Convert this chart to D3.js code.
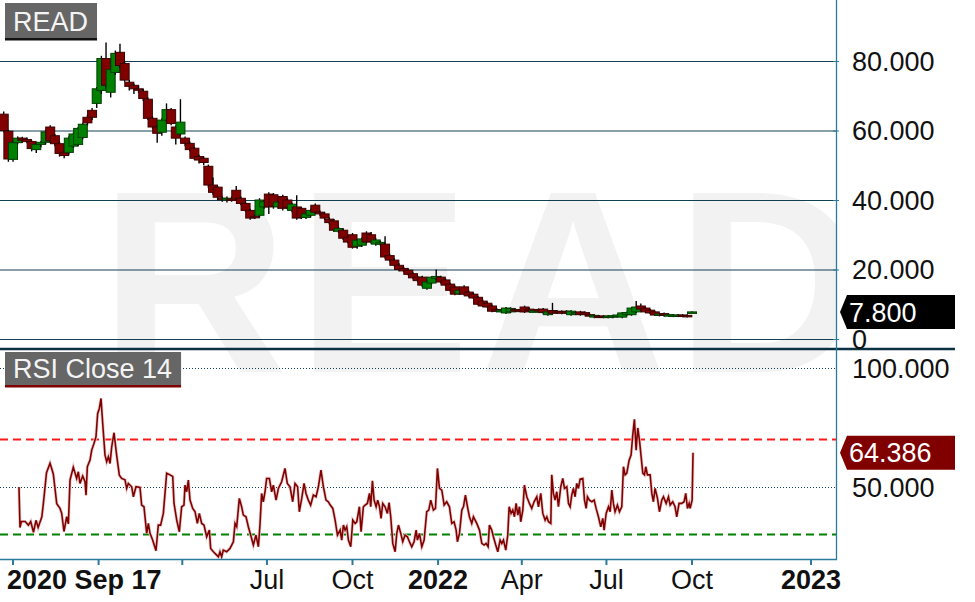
<!DOCTYPE html>
<html>
<head>
<meta charset="utf-8">
<script src="https://cdn.jsdelivr.net/npm/d3@7"></script>
<style>
body{margin:0;background:#fff;}
svg{display:block;font-family:"Liberation Sans",Arial,sans-serif;}
</style>
</head>
<body>
<svg id="chart" width="975" height="602"></svg>
<script>
// ---- data ----
var symbol = "READ";
var indicatorName = "RSI Close 14";
var firstDateLabel = "2020 Sep 17";
var seriesStart = "2020-09-17";
var candleStart = "2020-09-21";
var candleStepDays = 5;
// [open, high, low, close]
var candles = [
 [64.7,65.5,59.5,60.0],[59.8,60.2,51.0,51.8],[51.7,57.0,51.0,56.5],[56.5,58.3,56.0,57.8],[57.8,58.2,56.5,57.2],
 [57.4,58.0,56.3,56.8],[56.8,57.2,54.0,54.8],[54.5,56.5,53.5,56.0],[56.0,57.0,55.2,56.6],[56.6,60.2,56.0,59.6],
 [61.0,61.5,56.5,57.0],[58.5,59.0,55.5,56.2],[56.2,56.8,52.5,53.4],[53.6,54.2,52.0,52.8],[53.7,58.3,53.0,57.8],
 [55.5,59.5,55.0,59.0],[56.0,61.0,55.5,60.6],[58.0,62.2,57.5,61.8],[63.8,64.5,61.5,62.2],[65.8,66.5,63.0,63.8],
 [67.8,72.5,66.5,72.0],[71.5,81.5,70.5,80.7],[80.7,85.3,72.0,73.0],[71.0,78.0,69.5,77.5],[76.7,83.0,76.0,82.2],
 [82.5,85.0,78.0,78.7],[79.3,80.0,74.0,74.5],[73.9,74.5,71.5,72.7],[73.0,73.5,70.5,72.0],[72.0,73.0,70.8,71.6],
 [71.3,72.0,68.5,69.2],[69.0,69.5,63.0,63.5],[63.5,64.0,60.5,61.0],[61.0,61.5,56.5,59.2],[59.5,63.5,58.5,63.0],
 [63.0,67.8,62.5,66.0],[66.0,66.5,61.5,62.0],[61.0,61.5,56.0,57.8],[59.0,69.0,58.5,62.4],[57.8,58.3,55.5,56.3],
 [56.3,56.8,54.0,54.5],[54.9,55.3,51.5,52.0],[52.5,53.0,50.5,51.5],[52.0,52.5,50.0,50.8],[49.7,50.2,43.5,44.3],
 [44.3,46.5,41.5,42.2],[43.7,44.0,40.0,40.8],[40.5,41.0,39.5,40.2],[40.0,41.0,39.3,40.5],[40.3,41.0,39.5,40.2],
 [42.8,44.0,40.0,40.5],[40.5,41.0,38.5,39.0],[39.0,39.5,36.5,37.0],[37.0,37.5,34.3,34.8],[35.3,35.8,34.5,35.0],
 [35.6,40.5,35.0,40.0],[38.0,40.0,37.5,39.5],[41.7,42.2,36.0,38.0],[41.5,42.0,37.5,38.2],[38.0,40.0,37.5,39.4],
 [41.0,41.5,37.0,37.6],[40.0,40.5,37.3,37.8],[37.0,39.2,36.5,38.8],[38.0,41.4,34.3,34.8],[37.6,38.0,34.5,35.0],
 [35.0,36.5,34.5,36.0],[35.6,37.5,35.0,37.0],[38.5,39.0,36.0,36.5],[36.5,37.0,35.5,36.0],[36.0,36.5,34.3,34.8],
 [34.5,35.0,33.0,33.5],[34.0,34.5,30.8,31.3],[31.0,32.3,30.5,31.8],[31.3,31.8,28.5,29.0],[29.3,29.8,27.5,27.9],
 [30.0,30.5,26.0,26.4],[26.7,28.8,26.0,28.4],[27.0,29.2,26.5,28.8],[30.5,31.0,27.5,27.9],[30.0,30.8,27.5,28.0],
 [27.3,29.0,26.8,28.5],[27.3,28.2,26.8,27.8],[27.3,29.6,23.2,23.6],[24.0,24.5,22.2,22.7],[22.7,23.2,20.8,21.2],
 [21.2,21.8,19.5,20.0],[20.3,20.8,19.2,19.6],[19.8,20.2,18.3,18.6],[18.8,19.2,17.2,17.6],[17.8,18.2,16.3,16.8],
 [17.8,18.2,15.0,15.5],[14.6,16.8,14.2,16.4],[16.1,18.0,15.7,17.8],[17.4,20.0,17.0,18.0],[17.8,18.2,16.0,16.4],
 [17.0,17.4,15.2,15.5],[15.8,16.2,13.7,14.0],[15.0,15.4,12.6,12.9],[13.0,14.3,12.7,14.0],[15.0,15.5,12.6,12.9],
 [13.5,13.9,12.1,12.4],[12.9,13.3,11.5,11.8],[12.0,12.4,9.7,10.0],[10.9,11.3,9.2,9.5],[10.3,10.7,8.9,9.2],
 [9.5,9.9,7.7,8.0],[8.5,8.9,7.7,8.0],[7.8,8.6,7.5,8.3],[7.5,9.2,7.2,8.9],[7.8,9.1,7.5,8.8],
 [8.5,8.8,7.8,8.1],[8.3,8.6,7.9,8.2],[9.2,9.6,7.5,7.8],[8.6,9.0,8.0,8.3],[8.0,8.4,7.7,8.1],
 [8.5,8.8,7.9,8.2],[8.6,8.9,7.3,7.6],[7.0,8.1,6.7,7.8],[8.2,10.4,7.1,7.4],[8.0,8.3,7.3,7.6],
 [7.9,8.2,7.1,7.4],[8.0,8.3,7.2,7.5],[7.0,8.3,6.7,8.0],[7.2,7.9,6.9,7.6],[7.8,8.1,6.7,7.0],
 [7.6,7.9,6.8,7.1],[7.0,7.3,6.3,6.6],[6.3,7.1,6.0,6.8],[6.6,6.9,6.1,6.4],[6.6,6.9,6.0,6.3],
 [6.3,6.9,6.0,6.6],[6.3,7.0,6.0,6.7],[6.5,7.2,6.2,6.9],[6.3,7.8,6.0,7.5],[7.0,7.9,6.7,7.6],
 [7.0,9.2,6.7,8.9],[7.8,10.9,7.5,9.2],[9.5,10.2,8.3,8.6],[8.9,9.2,7.5,7.8],[8.3,8.6,7.2,7.5],
 [7.8,8.1,6.6,6.9],[6.8,7.5,6.5,7.2],[7.3,7.6,6.5,6.8],[6.7,7.3,6.4,7.0],[6.6,7.2,6.3,6.9],
 [6.6,7.2,6.3,6.9],[6.9,7.2,6.3,6.6],[6.8,7.1,6.2,6.5],[7.7,8.0,7.5,7.8]
];
// [days after series start, RSI]
var rsiPoints = [
 [20.4,50],[21.5,33],[23,35.5],[27,35.5],[30.5,34],[33,35.5],[36,31],[38.7,36],[41,33],[45,37.5],[46.6,43],[50,56],
 [53.8,60],[57.3,55.5],[61,43],[64.5,41],[66.3,39],[68.8,31.3],[71.7,37.5],[73.5,34.5],[75.3,52.9],[78.8,58.3],
 [82.4,53.6],[84.2,56.4],[86,51.5],[88.9,54.6],[91.4,52.2],[92.5,46.6],[93.9,58.5],[96.8,61.3],[98.6,65.5],[101,68.3],
 [103.2,71.1],[105,80.9],[106.8,83],[108.6,87.2],[110.4,76.8],[112.9,63.4],[114.7,60.6],[116.5,62.7],[118.3,59.9],
 [120.1,66.9],[122.6,72.8],[125.4,63.4],[128.3,55],[130.8,53.6],[134.4,53],[136.2,49.4],[138,51.5],[141.6,50.1],
 [143.4,45.9],[146.2,50.1],[150.5,49.8],[152.3,42.4],[154.8,41.7],[157.7,30.5],[159.5,34.7],[161.3,30.5],[164.1,27.7],
 [167.7,23.2],[170.2,34],[172.7,34],[175.6,38.9],[179.2,55.8],[182.8,55.1],[185.7,54.4],[187.1,43.1],[190,36.1],
 [192.8,31.2],[195.3,41.7],[197.8,42.4],[198.9,50.8],[200.7,48],[202.5,52.9],[204.3,44.5],[207.2,41],[209.7,39.6],
 [212.2,34.7],[214.3,38.9],[216.8,34.7],[219.3,34],[222.2,29.1],[225.1,31.9],[226.5,24.2],[229.4,22.8],[232.2,21.7],
 [234.8,20.7],[236.5,22.8],[238.3,20.7],[240.1,23.5],[243.7,22.8],[247.3,24.2],[250.9,27],[252.7,34.7],[254.5,33.3],
 [257.3,45.2],[259.8,41.7],[261.6,38.2],[264.5,37.5],[267,33.3],[269.5,29.8],[272.4,25.6],[275.2,29.8],[277.8,24.9],
 [279.6,34.7],[281.3,47.3],[283.1,43.8],[284.9,48],[286.7,53.6],[289.6,53.6],[292.1,48],[293.9,50.8],[296.8,44.5],
 [299.3,49.4],[302.8,52.2],[306.4,57.8],[308.9,51.5],[311.8,50.1],[314.7,43.8],[317.2,51.5],[320,50.1],[321.8,39.6],
 [324.4,45.2],[326.9,51.5],[329,47.3],[331.5,44.5],[334,42.4],[336.9,46.6],[339.8,45.9],[342.3,50.1],[345.1,57.1],
 [347.7,50.1],[350.5,44.5],[353,43.8],[354.9,42.5],[357.8,41],[360.3,36.1],[362.8,29.8],[365.7,31.9],[367.4,27.7],
 [369.2,34],[371,31.9],[372.8,33.3],[374.6,27.7],[377.1,24.9],[379.3,36.1],[381.8,34.7],[383.6,35.4],[386.4,41.7],
 [388.2,31.2],[390.7,41.7],[392.5,42.4],[395,43.1],[397.2,47.3],[398.6,41.7],[400.4,52.6],[402.2,44.5],[404.4,41.7],
 [406.1,44.5],[408,41.7],[409.7,36.8],[411.5,43.1],[414,41.7],[416.5,38.9],[418.3,43.4],[420.1,37.5],[422.3,26.3],
 [424.8,22.8],[426.6,30.5],[428.4,34],[430.9,30.5],[433,27],[435.5,29.8],[438,29.1],[440.2,27],[442.7,24.9],[445.2,27],
 [447.4,31.9],[448.8,27.7],[451,30.5],[453.5,24.9],[456,27.7],[458.8,39.6],[461,40.3],[463.1,44.5],[466,40.3],[468.2,41],
 [470.3,57.8],[472.5,49.4],[475,48.7],[477.5,42.4],[480.3,43.8],[483.2,41.7],[485.7,34.7],[488.2,35.4],[490.4,31.9],
 [491.8,27],[494,30.5],[496.5,40.3],[498.3,41.7],[500.4,46.6],[502.6,41.7],[504.7,37.5],[507.2,34.7],[509,37.5],
 [510.8,36.1],[512.6,34.7],[515.5,31.9],[518,26.3],[520.5,25.6],[522.6,26.3],[524.8,24.9],[526.2,34],[528.7,31.9],
 [530.5,29.1],[533,25.6],[535.2,22.8],[537.7,27.7],[539.5,26.3],[541.3,27.7],[543.8,23.5],[545.9,29.8],[547.4,41.7],
 [549.5,38.9],[551.3,40.3],[553.1,37.5],[554.9,43.1],[556.7,38.2],[558.5,41.7],[559.9,35.4],[562.1,40.3],[563.8,50.8],
 [566.4,45.9],[569.2,43.1],[571.7,41],[574.2,43.8],[577.1,45.9],[578.9,41.7],[581.4,47.3],[583.6,38.9],[586.1,36.1],
 [587.9,37.5],[589.7,35.4],[592.2,34.7],[593.2,55.1],[595,47.3],[596.8,44.5],[598.6,48],[600.4,41.7],[602.9,50.1],
 [605.1,53.6],[606.9,49.4],[609.4,50.1],[611.2,43.1],[613,41.7],[614.7,46.6],[616.5,49.4],[618.3,45.9],[620.1,51.5],
 [621.9,49.4],[623.7,53.3],[626.6,53.6],[628.4,44.5],[630.2,41],[631.6,45.9],[633.7,44.5],[636.3,43.8],[638.8,44.5],
 [640.9,41],[643.4,37.5],[645.9,33.3],[648.1,36.8],[649.5,31.9],[651.7,38.9],[654.2,41.7],[656,39.6],[657.8,48.7],
 [659.5,43.1],[661.3,39.6],[663.8,42.4],[666,39.6],[668.5,41.7],[670.3,58.5],[672.1,55.1],[673.9,55.8],[676.4,61.3],
 [678.5,63.4],[680.3,71.8],[682.1,78.4],[683.9,65.5],[685.7,74.8],[687.5,69.7],[689.3,62.7],[691.1,55.8],[692.9,55.1],
 [694.3,58.5],[696.1,55.1],[699,55.1],[700.8,47.3],[702.5,43.8],[704.3,49.4],[706.9,45.2],[709,39.6],[711.5,44.5],
 [713.3,45.9],[716.2,43.1],[718.7,45.9],[720.5,42.4],[723.3,43.8],[725.8,41.7],[727.6,37.5],[730.1,43.1],[733,43.1],
 [735.5,43.8],[737.3,47.3],[739.1,41],[740.9,43.1],[742,41],[744.1,44.5],[744.8,64.386]
];
var lastPrice = 7.8;
var lastRsi = 64.386;
var priceTicks = [0, 20, 40, 60, 80];
var rsiTicks = [50, 100];
var rsiOverbought = 70, rsiOversold = 30;

// ---- layout ----
var plotRight = 836;
var pricePanel = {top: 0, bottom: 349};
var rsiPanel = {top: 350, bottom: 559};
var axisColor = "#2b7a9b", gridColor = "#123f52";

var svg = d3.select("#chart");
var parseDate = d3.timeParse("%Y-%m-%d");
var t0 = parseDate(seriesStart);
function dayToDate(d){ return new Date(t0.getTime() + d*864e5); }

// trading-day axis; the part after the last bar is spaced a bit wider
var x = d3.scaleTime()
    .domain([t0, parseDate("2022-10-01"), parseDate("2023-01-01")])
    .range([0, 692, 811]);
var yPrice = d3.scaleLinear().domain([0, 80]).range([339, 61]);
var yRsi = d3.scaleLinear().domain([0, 100]).range([606, 368]);

var defs = svg.append("defs");
defs.append("clipPath").attr("id","clipPrice").append("rect")
    .attr("x",0).attr("y",pricePanel.top).attr("width",plotRight).attr("height",pricePanel.bottom-pricePanel.top);
defs.append("clipPath").attr("id","clipRsi").append("rect")
    .attr("x",0).attr("y",rsiPanel.top).attr("width",plotRight).attr("height",rsiPanel.bottom-rsiPanel.top);
defs.append("clipPath").attr("id","clipAll").append("rect")
    .attr("x",0).attr("y",0).attr("width",plotRight).attr("height",rsiPanel.bottom);

// -- watermark
svg.append("g").attr("clip-path","url(#clipAll)")
  .append("text")
    .attr("x", 100).attr("y", 372)
    .style("font-size","260px").style("font-weight","bold")
    .style("letter-spacing","9px")
    .style("fill","#f2f2f2")
    .text(symbol);

// -- price grid
var pg = svg.append("g").attr("clip-path","url(#clipPrice)");
pg.selectAll(".grid").data(priceTicks).enter().append("line")
    .attr("class","grid")
    .attr("x1",0).attr("x2",plotRight)
    .attr("y1",function(d){return yPrice(d)+0.5;}).attr("y2",function(d){return yPrice(d)+0.5;})
    .style("stroke",gridColor).style("stroke-width",1);

// -- candles
var candleData = candles.map(function(c,i){
    return {date: d3.timeDay.offset(parseDate(candleStart), i*candleStepDays), o:c[0], h:c[1], l:c[2], c:c[3]};
});
var cw = 9;
var cg = pg.selectAll(".candle").data(candleData).enter().append("g").attr("class","candle");
cg.append("line")
    .attr("x1",function(d){return x(d.date);}).attr("x2",function(d){return x(d.date);})
    .attr("y1",function(d){return yPrice(d.h);}).attr("y2",function(d){return yPrice(d.l);})
    .style("stroke","#000").style("stroke-width",1.4);
cg.append("rect")
    .attr("x",function(d){return x(d.date)-cw/2;})
    .attr("y",function(d){return yPrice(Math.max(d.o,d.c));})
    .attr("width",cw)
    .attr("height",function(d){return Math.max(1.5, Math.abs(yPrice(d.o)-yPrice(d.c)));})
    .style("fill",function(d){return d.c>=d.o ? "#008000" : "#800000";})
    .style("stroke",function(d){return d.c>=d.o ? "#003d00" : "#3d0000";})
    .style("stroke-width",1);

// -- rsi panel
var rg = svg.append("g").attr("clip-path","url(#clipRsi)");
rg.selectAll(".rgrid").data(rsiTicks).enter().append("line")
    .attr("x1",0).attr("x2",plotRight)
    .attr("y1",function(d){return yRsi(d)+0.5;}).attr("y2",function(d){return yRsi(d)+0.5;})
    .style("stroke",gridColor).style("stroke-width",1).style("stroke-dasharray","1,2");
[[rsiOverbought,"#ff1a1a"],[rsiOversold,"#008000"]].forEach(function(b){
    rg.append("line")
        .attr("x1",0).attr("x2",plotRight)
        .attr("y1",yRsi(b[0])).attr("y2",yRsi(b[0]))
        .style("stroke",b[1]).style("stroke-width",2).style("stroke-dasharray","8,5");
});
var rsiLine = d3.line()
    .x(function(d){return x(dayToDate(d[0]));})
    .y(function(d){return yRsi(d[1]);});
rg.append("path").datum(rsiPoints).attr("d",rsiLine)
    .style("fill","none").style("stroke","#e9cccc").style("stroke-width",3.2);
rg.append("path").datum(rsiPoints).attr("d",rsiLine)
    .style("fill","none").style("stroke","#800000").style("stroke-width",1.6);

// -- panel separator and axes
svg.append("line").attr("x1",0).attr("x2",955).attr("y1",349).attr("y2",349)
    .style("stroke","#0b3142").style("stroke-width",2.5);
svg.append("line").attr("x1",plotRight+0.5).attr("x2",plotRight+0.5).attr("y1",0).attr("y2",rsiPanel.bottom+1)
    .style("stroke",axisColor).style("stroke-width",1.3);
svg.append("line").attr("x1",0).attr("x2",plotRight+1).attr("y1",rsiPanel.bottom+0.5).attr("y2",rsiPanel.bottom+0.5)
    .style("stroke",axisColor).style("stroke-width",1.5);

// right axis labels
var fmt = d3.format(".3f");
svg.selectAll(".plabel").data(priceTicks).enter().append("text")
    .attr("x",852).attr("y",function(d){return yPrice(d);}).attr("dy","0.36em")
    .style("font-size","27px").style("fill","#111")
    .text(function(d){return d===0 ? "0" : fmt(d);});
svg.selectAll(".ptick").data(priceTicks).enter().append("line")
    .attr("x1",plotRight-3).attr("x2",plotRight+3)
    .attr("y1",function(d){return yPrice(d)+0.5;}).attr("y2",function(d){return yPrice(d)+0.5;})
    .style("stroke",axisColor);
svg.selectAll(".rlabel").data(rsiTicks).enter().append("text")
    .attr("x",852).attr("y",function(d){return yRsi(d);}).attr("dy","0.36em")
    .style("font-size","27px").style("fill","#111")
    .text(function(d){return fmt(d);});

// last value tags
function tag(yv, label, fill){
    var g = svg.append("g");
    g.append("path")
        .attr("d","M840,"+yv+" L847,"+(yv-17)+" L955,"+(yv-17)+" L955,"+(yv+17)+" L847,"+(yv+17)+" Z")
        .style("fill",fill);
    g.append("text").attr("x",849).attr("y",yv).attr("dy","0.36em")
        .style("font-size","27px").style("fill","#fff").text(label);
}
tag(yPrice(lastPrice), fmt(lastPrice), "#000");
tag(yRsi(lastRsi), fmt(lastRsi), "#800000");

// bottom time axis
var xTicks = d3.timeMonth.range(parseDate("2020-10-01"), parseDate("2023-01-02"), 3);
var ax = svg.append("g");
ax.selectAll(".xtick").data(xTicks).enter().append("line")
    .attr("x1",function(d){return x(d);}).attr("x2",function(d){return x(d);})
    .attr("y1",rsiPanel.bottom).attr("y2",rsiPanel.bottom+6)
    .style("stroke",axisColor).style("stroke-width",2);
var first = ax.append("text").attr("x",7).attr("y",589)
    .style("font-size","27px").style("font-weight","bold").style("fill","#111")
    .text(firstDateLabel);
var firstEnd = 7 + first.node().getComputedTextLength();
ax.selectAll(".xlabel").data(xTicks).enter().append("text")
    .attr("x",function(d){return x(d);}).attr("y",589)
    .attr("text-anchor","middle")
    .style("font-size","27px").style("fill","#111")
    .style("font-weight",function(d){return d.getMonth()===0 ? "bold" : "normal";})
    .text(function(d){return d.getMonth()===0 ? d3.timeFormat("%Y")(d) : d3.timeFormat("%b")(d);})
    .each(function(d){
        var w = this.getComputedTextLength();
        if (x(d) - w/2 < firstEnd + 8) d3.select(this).remove();
    });

// panel titles
function title(y0, h, label, lineColor){
    var g = svg.append("g");
    g.append("rect").attr("x",5).attr("y",y0).attr("height",h).style("fill","#666");
    var t = g.append("text").attr("x",13).attr("y",y0+h-7)
        .style("font-size","27px").style("fill","#f4f4f4").text(label);
    var w = t.node().getComputedTextLength() + 17;
    g.select("rect").attr("width",w);
    g.append("rect").attr("x",5).attr("y",y0+h).attr("width",w).attr("height",2.5).style("fill",lineColor);
}
title(3, 35, symbol, "#111");
title(352, 33, indicatorName, "#800000");
</script>
</body>
</html>
